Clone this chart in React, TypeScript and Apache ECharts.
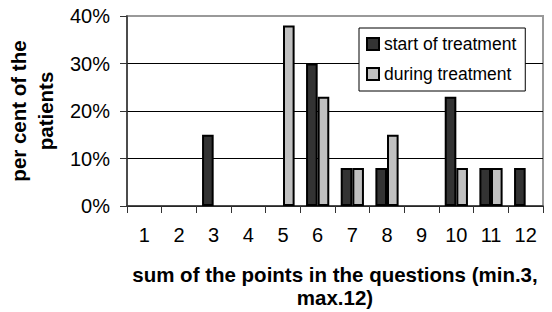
import React, { useEffect, useRef } from "react";
import * as echarts from "echarts";

const categories = ["1", "2", "3", "4", "5", "6", "7", "8", "9", "10", "11", "12"];
const startOfTreatment = [0, 0, 15, 0, 0, 30, 8, 8, 0, 23, 8, 8];
const duringTreatment = [0, 0, 0, 0, 38, 23, 8, 15, 0, 8, 8, 0];
const seriesNames = ["start of treatment", "during treatment"];
const yAxisTitle = "per cent of the\npatients";
const xAxisTitle = "sum of the points in the questions (min.3,\nmax.12)";

const FONT = "'Liberation Sans', Arial, sans-serif";

export default function App() {
  const ref = useRef<HTMLDivElement>(null);
  useEffect(() => {
    if (!ref.current) return;
    const chart = echarts.init(ref.current, undefined, { renderer: "svg" });
    const toData = (arr: number[]) => arr.map((v) => (v === 0 ? null : v));
    chart.setOption({
      animation: false,
      backgroundColor: "#fff",
      textStyle: { fontFamily: FONT },
      grid: {
        left: 127,
        right: 9,
        top: 16,
        bottom: 106,
        containLabel: false,
        outerBoundsMode: "none",
        show: true,
        borderColor: "#999",
        borderWidth: 2,
        backgroundColor: "transparent",
      },
      legend: {
        orient: "vertical",
        left: 359,
        top: 28,
        padding: [7, 9, 8, 7],
        itemGap: 12,
        itemWidth: 12,
        itemHeight: 12,
        borderColor: "#000",
        borderWidth: 1,
        backgroundColor: "#fff",
        icon: "rect",
        textStyle: { fontFamily: FONT, fontSize: 17.5, color: "#000" },
        data: seriesNames,
      },
      xAxis: {
        type: "category",
        data: categories,
        boundaryGap: true,
        axisLine: { lineStyle: { color: "#333", width: 1.5 } },
        axisTick: { show: true, length: 7, lineStyle: { color: "#333", width: 1 } },
        axisLabel: { fontFamily: FONT, fontSize: 20, color: "#000", margin: 19 },
        name: xAxisTitle,
        nameLocation: "middle",
        nameGap: 57,
        nameTextStyle: {
          fontFamily: FONT,
          fontSize: 20.5,
          fontWeight: "bold",
          color: "#000",
          lineHeight: 23,
          verticalAlign: "top",
        },
      },
      yAxis: {
        type: "value",
        min: 0,
        max: 40,
        interval: 10,
        axisLine: { show: true, lineStyle: { color: "#333", width: 1.5 } },
        axisTick: { show: true, length: 7, lineStyle: { color: "#333", width: 1 } },
        axisLabel: {
          fontFamily: FONT,
          fontSize: 20,
          color: "#000",
          margin: 17,
          formatter: "{value}%",
        },
        splitLine: { show: true, showMaxLine: false, lineStyle: { color: "#000", width: 1 } },
        name: yAxisTitle,
        nameLocation: "middle",
        nameGap: 67,
        nameRotate: 90,
        nameTextStyle: {
          fontFamily: FONT,
          fontSize: 20.5,
          fontWeight: "bold",
          color: "#000",
          lineHeight: 27,
        },
      },
      series: [
        {
          name: seriesNames[0],
          type: "bar",
          data: toData(startOfTreatment),
          barGap: "0%",
          barCategoryGap: "33%",
          itemStyle: { color: "#333333", borderColor: "#000", borderWidth: 2 },
        },
        {
          name: seriesNames[1],
          type: "bar",
          data: toData(duringTreatment),
          barGap: "0%",
          barCategoryGap: "33%",
          itemStyle: { color: "#c0c0c0", borderColor: "#000", borderWidth: 2 },
        },
      ],
    });
    return () => chart.dispose();
  }, []);
  return (
    <div
      ref={ref}
      style={{ position: "absolute", left: 0, top: 0, width: 552, height: 312 }}
    />
  );
}
